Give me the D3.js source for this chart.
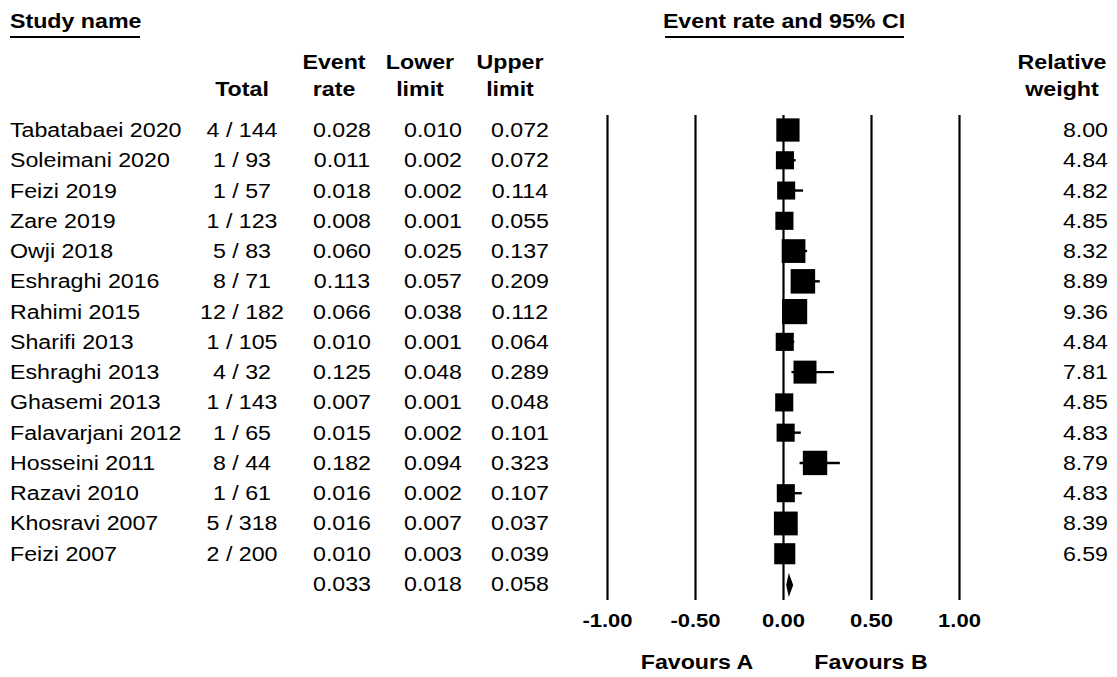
<!DOCTYPE html>
<html><head><meta charset="utf-8">
<script src="https://cdn.jsdelivr.net/npm/d3@7"></script>
<style>body{margin:0;background:#fff}svg{display:block}text{font-family:"Liberation Sans",Arial,sans-serif;fill:#000}</style>
</head><body>
<script>
const studies = ["Tabatabaei 2020","Soleimani 2020","Feizi 2019","Zare 2019","Owji 2018","Eshraghi 2016","Rahimi 2015","Sharifi 2013","Eshraghi 2013","Ghasemi 2013","Falavarjani 2012","Hosseini 2011","Razavi 2010","Khosravi 2007","Feizi 2007"];
const totals = ["4 / 144","1 / 93","1 / 57","1 / 123","5 / 83","8 / 71","12 / 182","1 / 105","4 / 32","1 / 143","1 / 65","8 / 44","1 / 61","5 / 318","2 / 200"];
const eventRates = [0.028,0.011,0.018,0.008,0.060,0.113,0.066,0.010,0.125,0.007,0.015,0.182,0.016,0.016,0.010];
const lowerLimits = [0.010,0.002,0.002,0.001,0.025,0.057,0.038,0.001,0.048,0.001,0.002,0.094,0.002,0.007,0.003];
const upperLimits = [0.072,0.072,0.114,0.055,0.137,0.209,0.112,0.064,0.289,0.048,0.101,0.323,0.107,0.037,0.039];
const weights = [8.00,4.84,4.82,4.85,8.32,8.89,9.36,4.84,7.81,4.85,4.83,8.79,4.83,8.39,6.59];
const pooled = [0.033,0.018,0.058];
const tickValues = [-1.00,-0.50,0.00,0.50,1.00];

const W=1117,H=677,SX=1.16;
const svg=d3.select("body").append("svg").attr("width",W).attr("height",H);

const x=d3.scaleLinear().domain([-1,1]).range([607,959]);
const y=d3.scalePoint().domain(d3.range(studies.length+1)).range([130,584]);
const side=d3.scaleSqrt().domain([0,10]).range([0,26]);

function txt(px,py,s,anchor,bold,size){
  return svg.append("text")
    .attr("transform",`translate(${px},${py}) scale(${SX},1)`)
    .attr("text-anchor",anchor||"start")
    .attr("font-weight",bold?"bold":"normal")
    .attr("font-size",(size||20)+"px")
    .text(s);
}
const B=7; // baseline offset from row center

// Headers
txt(10,28,"Study name","start",true);
svg.append("line").attr("x1",10).attr("x2",140).attr("y1",37).attr("y2",37).attr("stroke","#000").attr("stroke-width",2);
txt(784,28,"Event rate and 95% CI","middle",true);
svg.append("line").attr("x1",665).attr("x2",904).attr("y1",37).attr("y2",37).attr("stroke","#000").attr("stroke-width",2);
txt(242,96,"Total","middle",true);
txt(334,69,"Event","middle",true); txt(334,96,"rate","middle",true);
txt(420,69,"Lower","middle",true); txt(420,96,"limit","middle",true);
txt(510,69,"Upper","middle",true); txt(510,96,"limit","middle",true);
txt(1062,69,"Relative","middle",true); txt(1062,96,"weight","middle",true);

// Table rows
studies.forEach((s,i)=>{
  const cy=y(i)+B;
  txt(10,cy,s,"start");
  txt(242,cy,totals[i],"middle");
  txt(342,cy,eventRates[i].toFixed(3),"middle");
  txt(433,cy,lowerLimits[i].toFixed(3),"middle");
  txt(520,cy,upperLimits[i].toFixed(3),"middle");
  txt(1108,cy,weights[i].toFixed(2),"end");
});
const pi=studies.length;
txt(342,y(pi)+B,pooled[0].toFixed(3),"middle");
txt(433,y(pi)+B,pooled[1].toFixed(3),"middle");
txt(520,y(pi)+B,pooled[2].toFixed(3),"middle");

// Axis with full-height grid lines
const axisTop=115, axisBottom=600;
const ax=svg.append("g").attr("transform",`translate(0,${axisTop})`)
  .call(d3.axisBottom(x).tickValues(tickValues).tickFormat(d=>d.toFixed(2)).tickSize(axisBottom-axisTop).tickPadding(14));
ax.select(".domain").remove();
ax.selectAll(".tick line").attr("stroke","#000").attr("stroke-width",2.2);
ax.selectAll(".tick text").attr("font-size","19px").attr("font-weight","bold")
  .attr("font-family","Liberation Sans, Arial, sans-serif").attr("fill","#000")
  .attr("transform",`scale(${SX},1)`);

// CI lines
svg.append("g").selectAll("line").data(studies).join("line")
  .attr("x1",(d,i)=>x(lowerLimits[i])).attr("x2",(d,i)=>x(upperLimits[i]))
  .attr("y1",(d,i)=>y(i)).attr("y2",(d,i)=>y(i))
  .attr("stroke","#000").attr("stroke-width",2.4);
// Squares
svg.append("g").selectAll("rect").data(studies).join("rect")
  .attr("x",(d,i)=>x(eventRates[i])-side(weights[i])/2)
  .attr("y",(d,i)=>y(i)-side(weights[i])/2)
  .attr("width",(d,i)=>side(weights[i])).attr("height",(d,i)=>side(weights[i]))
  .attr("fill","#000");
// Diamond
const py=y(pi)+1, dh=12;
svg.append("path")
  .attr("d",`M${x(pooled[1])},${py} L${x(pooled[0])},${py-dh} L${x(pooled[2])},${py} L${x(pooled[0])},${py+dh} Z`)
  .attr("fill","#000");

// Favours
txt(697,669,"Favours A","middle",true);
txt(871,669,"Favours B","middle",true);
</script>
</body></html>
